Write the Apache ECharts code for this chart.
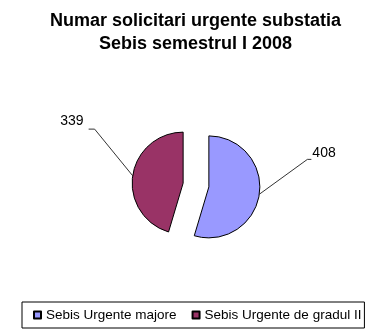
<!DOCTYPE html>
<html>
<head>
<meta charset="utf-8">
<script src="https://cdn.jsdelivr.net/npm/echarts@6/dist/echarts.min.js"></script>
<style>
html,body{margin:0;padding:0;background:#fff;}
#chart{width:391px;height:333px;}
</style>
</head>
<body>
<div id="chart"></div>
<script>
var titleText = 'Numar solicitari urgente substatia\nSebis semestrul I 2008';
var categories = ['Sebis Urgente majore', 'Sebis Urgente de gradul II'];
var values = [408, 339];
var colors = ['#9999FF', '#993366'];

var FONT = '"Liberation Sans", Arial, sans-serif';
var chart = echarts.init(document.getElementById('chart'), null, {renderer: 'canvas'});

var data = categories.map(function (c, i) {
  return { name: c, value: values[i], selected: true, itemStyle: { color: colors[i] } };
});

chart.setOption({
  backgroundColor: '#fff',
  animation: false,
  title: {
    text: titleText,
    left: 'center',
    top: 10,
    padding: 0,
    textStyle: {
      fontFamily: FONT,
      fontSize: 18,
      fontWeight: 'bold',
      color: '#000',
      lineHeight: 23
    }
  },
  legend: {
    data: categories,
    left: 22,
    top: 302,
    orient: 'horizontal',
    icon: 'rect',
    itemWidth: 7,
    itemHeight: 7,
    itemGap: 15,
    padding: [6, 3, 6, 11],
    borderColor: '#000',
    borderWidth: 1,
    selectedMode: false,
    textStyle: { fontFamily: FONT, fontSize: 13.5, color: '#000' }
  },
  series: [{
    type: 'pie',
    center: [196, 185],
    radius: 51,
    startAngle: 90,
    clockwise: true,
    selectedMode: 'multiple',
    selectedOffset: 13,
    silent: true,
    itemStyle: { borderColor: '#000', borderWidth: 1 },
    label: {
      show: true,
      position: 'outside',
      formatter: '{c}',
      fontFamily: FONT,
      fontSize: 14,
      color: '#000'
    },
    labelLine: {
      show: true,
      length: 10,
      length2: 5,
      lineStyle: { color: '#333', width: 1 }
    },
    labelLayout: function (p) {
      var lr = p.labelRect, r = p.rect;
      var anchor = p.labelLinePoints ? p.labelLinePoints[0] : null;
      var curCy = lr.y + lr.height / 2;
      if (p.dataIndex === 0) {
        var left = r.x + r.width + 52, cy = r.y + 18;
        var out = { dx: left - lr.x, dy: cy - curCy };
        if (anchor) out.labelLinePoints = [anchor, [left - 5, cy + 6], [left - 1, cy + 6]];
        return out;
      }
      var right = r.x - 48, cy2 = r.y - 10;
      var out2 = { dx: right - (lr.x + lr.width), dy: cy2 - curCy };
      if (anchor) out2.labelLinePoints = [anchor, [right + 11, cy2 + 7.5], [right + 5, cy2 + 7.5]];
      return out2;
    },
    data: data
  }]
});
</script>
</body>
</html>
